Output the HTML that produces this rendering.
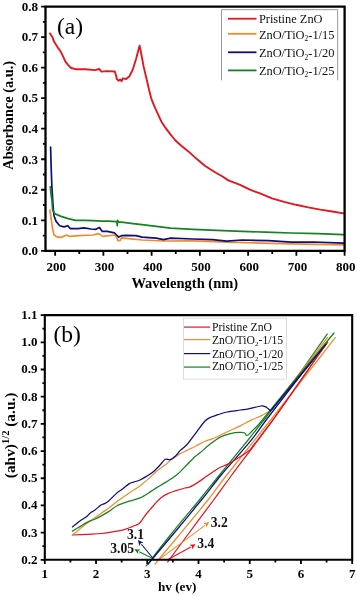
<!DOCTYPE html><html><head><meta charset="utf-8"><style>html,body{margin:0;padding:0;background:#fff;}svg{display:block;will-change:transform;}</style></head><body>
<svg width="357" height="596" viewBox="0 0 357 596">
<rect width="357" height="596" fill="#fff"/>
<path d="M55.15 250.80V255.70M103.39 250.80V255.70M151.63 250.80V255.70M199.87 250.80V255.70M248.12 250.80V255.70M296.36 250.80V255.70M344.60 250.80V255.70M79.27 250.80V253.90M127.51 250.80V253.90M175.75 250.80V253.90M224.00 250.80V253.90M272.24 250.80V253.90M320.48 250.80V253.90M45.50 250.80H41.10M45.50 220.28H41.10M45.50 189.75H41.10M45.50 159.23H41.10M45.50 128.70H41.10M45.50 98.18H41.10M45.50 67.65H41.10M45.50 37.13H41.10M45.50 6.60H41.10M45.50 235.54H42.90M45.50 205.01H42.90M45.50 174.49H42.90M45.50 143.96H42.90M45.50 113.44H42.90M45.50 82.91H42.90M45.50 52.39H42.90M45.50 21.86H42.90" stroke="#000" stroke-width="1.8" fill="none"/>
<g fill="none" stroke-linejoin="round" stroke-linecap="round">
<path d="M50.00 210.00L51.10 218.60L52.60 228.60L54.00 235.00L56.90 236.90L61.10 237.40L66.90 235.00L69.00 236.40L79.70 235.70L93.00 235.00L98.70 233.60L103.00 236.40L114.40 235.00L116.60 237.10L118.00 240.70L120.10 240.70L121.60 237.90L128.70 238.60L142.00 240.00L163.40 241.00L193.00 240.90L226.70 242.10L261.40 243.10L291.00 243.80L343.50 244.80" stroke="#f08c2c" stroke-width="1.7"/>
<path d="M50.60 147.20L51.20 168.60L51.90 187.10L52.70 200.00L53.30 208.60L54.00 215.70L56.10 221.40L59.70 225.70L64.00 226.90L67.60 225.70L70.40 228.60L78.30 228.60L84.00 227.90L91.10 229.00L95.90 229.30L99.40 227.40L102.30 231.40L107.30 231.40L114.40 232.90L116.60 235.00L118.70 237.10L121.60 235.70L125.90 235.40L135.90 235.70L142.00 237.10L156.30 238.10L163.40 239.60L170.60 238.10L193.00 239.00L212.40 239.70L226.70 241.10L242.00 240.00L268.60 240.70L291.00 242.10L313.00 242.00L343.50 243.20" stroke="#0e0e7c" stroke-width="1.7"/>
<path d="M50.30 186.80L51.00 194.00L51.90 200.00L52.60 210.00L54.70 213.60L61.10 216.40L68.30 218.60L75.40 220.30L84.00 220.30L93.00 220.70L101.60 221.10L108.70 221.10L115.90 221.70L116.90 221.30L117.30 225.70L117.70 220.30L118.30 221.90L121.60 222.10L133.00 223.60L142.00 224.70L156.30 226.40L170.60 228.10L193.00 229.30L216.70 230.30L242.00 231.40L265.70 232.10L291.00 233.00L317.80 233.60L343.50 234.70" stroke="#178222" stroke-width="1.7"/>
<path d="M50.00 33.40L52.60 37.60L54.00 41.60L58.40 48.40L61.10 52.30L63.50 57.30L65.40 61.60L68.00 64.80L71.10 68.00L75.40 69.20L85.30 69.20L95.20 70.10L99.10 69.00L101.50 71.60L106.80 71.10L114.80 71.50L116.00 75.30L116.80 79.00L118.50 80.70L120.20 79.50L121.60 81.20L122.70 78.40L126.10 79.00L129.50 76.20L132.80 69.50L136.20 58.50L138.40 50.10L139.60 45.60L141.20 53.50L143.70 66.90L147.10 81.20L149.10 90.00L151.30 98.60L154.10 105.70L157.70 113.60L161.30 121.40L165.60 127.90L169.90 133.60L174.90 140.00L181.30 145.70L188.40 151.40L196.30 158.60L204.80 165.70L214.60 172.00L222.50 176.50L228.30 180.40L240.10 184.90L249.90 189.60L260.00 193.40L272.00 198.30L284.10 201.90L296.10 204.80L308.20 207.40L320.20 209.60L332.30 211.50L343.50 213.40" stroke="#e3171f" stroke-width="1.9"/>
</g>
<g fill="none" stroke-linejoin="round" stroke-linecap="round" stroke-width="1.25">
<path d="M146.20 565.90C150.23 560.75 161.55 545.98 170.40 535.00C179.25 524.02 191.12 510.00 199.30 500.00C207.48 490.00 211.37 485.00 219.50 475.00C227.63 465.00 240.70 449.17 248.10 440.00C255.50 430.83 256.13 430.00 263.90 420.00C271.67 410.00 286.60 390.83 294.70 380.00C302.80 369.17 307.08 362.65 312.50 355.00C317.92 347.35 324.75 337.58 327.20 334.10" stroke="#178222"/>
<path d="M148.20 564.20C149.17 563.00 149.95 561.87 154.00 557.00C158.05 552.13 164.60 544.50 172.50 535.00C180.40 525.50 193.28 510.00 201.40 500.00C209.52 490.00 213.10 484.72 221.20 475.00C229.30 465.28 242.50 450.87 250.00 441.70C257.50 432.53 258.37 430.28 266.20 420.00C274.03 409.72 287.10 392.57 297.00 380.00C306.90 367.43 320.83 350.50 325.60 344.60" stroke="#0e0e7c"/>
<path d="M155.20 564.20C156.12 563.00 156.70 561.87 160.70 557.00C164.70 552.13 171.33 544.50 179.20 535.00C187.07 525.50 199.97 510.00 207.90 500.00C215.83 490.00 216.35 488.33 226.80 475.00C237.25 461.67 254.77 440.00 270.60 420.00C286.43 400.00 311.03 368.73 321.80 355.00C332.57 341.27 332.97 340.50 335.20 337.60" stroke="#f08c2c"/>
<path d="M167.70 562.00C168.30 561.17 168.55 560.75 171.30 557.00C174.05 553.25 177.15 549.00 184.20 539.50C191.25 530.00 205.67 510.75 213.60 500.00C221.53 489.25 221.92 488.33 231.80 475.00C241.68 461.67 258.47 440.00 272.90 420.00C287.33 400.00 309.28 367.97 318.40 355.00C327.52 342.03 326.07 344.33 327.60 342.20" stroke="#e3171f"/>
<path d="M72.40 535.00C74.90 534.88 82.52 534.55 87.40 534.30C92.28 534.05 96.77 534.02 101.70 533.50C106.63 532.98 113.12 531.88 117.00 531.20C120.88 530.52 122.48 530.17 125.00 529.40C127.52 528.63 129.72 527.60 132.10 526.60C134.48 525.60 137.38 524.90 139.30 523.40C141.22 521.90 142.17 519.50 143.60 517.60C145.03 515.70 146.23 514.02 147.90 512.00C149.57 509.98 151.47 507.85 153.60 505.50C155.73 503.15 158.32 499.88 160.70 497.90C163.08 495.92 165.35 494.80 167.90 493.60C170.45 492.40 173.18 491.63 176.00 490.70C178.82 489.77 182.47 488.63 184.80 488.00C187.13 487.37 187.95 487.75 190.00 486.90C192.05 486.05 194.72 484.40 197.10 482.90C199.48 481.40 201.92 479.57 204.30 477.90C206.68 476.23 209.02 474.52 211.40 472.90C213.78 471.28 215.85 469.67 218.60 468.20C221.35 466.73 225.08 465.53 227.90 464.10C230.72 462.67 232.88 461.18 235.50 459.60C238.12 458.02 241.18 456.20 243.60 454.60C246.02 453.00 248.93 450.77 250.00 450.00L272.90 420.00L318.40 355.00L327.60 342.20" stroke="#e3171f"/>
<path d="M72.40 535.00C73.72 533.93 77.80 530.62 80.30 528.60C82.80 526.58 85.02 524.68 87.40 522.90C89.78 521.12 92.22 519.57 94.60 517.90C96.98 516.23 99.32 514.57 101.70 512.90C104.08 511.23 106.35 509.82 108.90 507.90C111.45 505.98 115.27 502.72 117.00 501.40C118.73 500.08 117.25 501.42 119.30 500.00C121.35 498.58 125.97 495.17 129.30 492.90C132.63 490.63 136.20 488.67 139.30 486.40C142.40 484.13 145.05 481.80 147.90 479.30C150.75 476.80 153.38 473.90 156.40 471.40C159.42 468.90 163.70 466.12 166.00 464.30C168.30 462.48 168.10 462.12 170.20 460.50C172.30 458.88 175.80 456.28 178.60 454.60C181.40 452.92 184.20 451.80 187.00 450.40C189.80 449.00 192.40 447.73 195.40 446.20C198.40 444.67 202.00 442.52 205.00 441.20C208.00 439.88 209.75 439.83 213.40 438.30C217.05 436.77 222.42 434.07 226.90 432.00C231.38 429.93 236.25 427.88 240.30 425.90C244.35 423.92 247.75 421.77 251.20 420.10C254.65 418.43 257.73 417.53 261.00 415.90C264.27 414.27 269.17 411.23 270.80 410.30L327.60 337.40" stroke="#f08c2c"/>
<path d="M72.40 531.10C73.72 530.32 77.80 527.90 80.30 526.40C82.80 524.90 85.02 523.28 87.40 522.10C89.78 520.92 92.50 520.22 94.60 519.30C96.70 518.38 97.67 517.88 100.00 516.60C102.33 515.32 105.75 513.42 108.60 511.60C111.45 509.78 113.77 507.40 117.10 505.70C120.43 504.00 124.78 502.70 128.60 501.40C132.42 500.10 136.27 499.57 140.00 497.90C143.73 496.23 148.27 493.07 151.00 491.40C153.73 489.73 153.90 489.45 156.40 487.90C158.90 486.35 162.58 484.28 166.00 482.10C169.42 479.92 173.40 477.70 176.90 474.80C180.40 471.90 183.92 467.78 187.00 464.70C190.08 461.62 193.23 458.28 195.40 456.30C197.57 454.32 197.73 454.68 200.00 452.80C202.27 450.92 205.63 447.62 209.00 445.00C212.37 442.38 216.47 439.05 220.20 437.10C223.93 435.15 228.05 434.10 231.40 433.30C234.75 432.50 238.17 432.40 240.30 432.30C242.43 432.20 243.08 432.17 244.20 432.70C245.32 433.23 245.80 435.65 247.00 435.50C248.20 435.35 249.45 433.63 251.40 431.80C253.35 429.97 257.48 425.72 258.70 424.50L295.00 380.00L334.00 333.00" stroke="#178222"/>
<path d="M72.40 526.90C73.72 525.87 78.03 522.33 80.30 520.70C82.57 519.07 84.33 518.40 86.00 517.10C87.67 515.80 88.87 514.03 90.30 512.90C91.73 511.77 92.82 511.62 94.60 510.30C96.38 508.98 99.33 506.12 101.00 505.00C102.67 503.88 103.28 504.32 104.60 503.60C105.92 502.88 106.83 502.48 108.90 500.70C110.97 498.92 114.80 494.80 117.00 492.90C119.20 491.00 120.05 490.85 122.10 489.30C124.15 487.75 127.38 484.80 129.30 483.60C131.22 482.40 131.82 482.70 133.60 482.10C135.38 481.50 137.87 480.95 140.00 480.00C142.13 479.05 144.13 477.83 146.40 476.40C148.67 474.97 151.22 473.42 153.60 471.40C155.98 469.38 158.77 466.32 160.70 464.30C162.63 462.28 163.62 460.07 165.20 459.30C166.78 458.53 168.52 460.20 170.20 459.70C171.88 459.20 173.62 457.85 175.30 456.30C176.98 454.75 178.35 452.37 180.30 450.40C182.25 448.43 184.48 447.30 187.00 444.50C189.52 441.70 192.40 437.52 195.40 433.60C198.40 429.68 202.37 423.77 205.00 421.00C207.63 418.23 209.05 418.05 211.20 417.00C213.35 415.95 215.28 415.53 217.90 414.70C220.52 413.87 223.17 412.78 226.90 412.00C230.63 411.22 236.72 410.53 240.30 410.00C243.88 409.47 244.95 409.47 248.40 408.80C251.85 408.13 258.20 406.37 261.00 406.00C263.80 405.63 264.03 406.17 265.20 406.60C266.37 407.03 267.12 407.87 268.00 408.60C268.88 409.33 270.08 410.60 270.50 411.00L325.60 344.60" stroke="#0e0e7c"/>
</g>
<path d="M152.40 557.50L141.41 544.24" stroke="#0e0e7c" stroke-width="1.1" fill="none"/>
<path d="M137.90 540.00L143.41 542.58L140.64 543.31L139.41 545.89Z" fill="#0e0e7c"/>
<path d="M151.80 558.00L139.22 551.75" stroke="#178222" stroke-width="1.1" fill="none"/>
<path d="M134.30 549.30L140.38 549.42L138.15 551.21L138.07 554.08Z" fill="#178222"/>
<path d="M159.00 559.60L204.89 525.39" stroke="#f08c2c" stroke-width="1.1" fill="none"/>
<path d="M209.30 522.10L206.44 527.47L205.85 524.67L203.34 523.30Z" fill="#f08c2c"/>
<path d="M168.00 559.60L190.89 546.96" stroke="#e3171f" stroke-width="1.1" fill="none"/>
<path d="M195.70 544.30L192.14 549.24L191.94 546.38L189.63 544.68Z" fill="#e3171f"/>
<g font-family="Liberation Serif, serif" font-weight="bold" font-size="13.6" fill="#111">
<text x="144" y="539" text-anchor="end">3.1</text>
<text x="134" y="553.4" text-anchor="end">3.05</text>
<text x="210.8" y="527.1">3.2</text>
<text x="197.3" y="547.5">3.4</text>
</g>
<path d="M45.50 250.80V6.60H344.60V250.80Z" stroke="#000" stroke-width="2.3" fill="none" stroke-linecap="square"/>
<g font-family="Liberation Serif, serif" font-weight="bold" font-size="13" fill="#000">
<text x="38" y="255.10" text-anchor="end">0.0</text>
<text x="38" y="224.58" text-anchor="end">0.1</text>
<text x="38" y="194.05" text-anchor="end">0.2</text>
<text x="38" y="163.53" text-anchor="end">0.3</text>
<text x="38" y="133.00" text-anchor="end">0.4</text>
<text x="38" y="102.48" text-anchor="end">0.5</text>
<text x="38" y="71.95" text-anchor="end">0.6</text>
<text x="38" y="41.43" text-anchor="end">0.7</text>
<text x="38" y="10.90" text-anchor="end">0.8</text>
<text x="56.35" y="270.6" text-anchor="middle">200</text>
<text x="104.59" y="270.6" text-anchor="middle">300</text>
<text x="152.83" y="270.6" text-anchor="middle">400</text>
<text x="201.07" y="270.6" text-anchor="middle">500</text>
<text x="249.32" y="270.6" text-anchor="middle">600</text>
<text x="297.56" y="270.6" text-anchor="middle">700</text>
<text x="345.80" y="270.6" text-anchor="middle">800</text>
</g>
<text x="184.8" y="287.6" text-anchor="middle" font-family="Liberation Serif, serif" font-weight="bold" font-size="14.5">Wavelength (nm)</text>
<text transform="translate(13.2 115.3) rotate(-90)" text-anchor="middle" font-family="Liberation Serif, serif" font-weight="bold" font-size="14.35">Absorbance (a.u.)</text>
<text x="57" y="33.6" font-family="Liberation Serif, serif" font-size="23.5">(a)</text>
<path d="M44.80 559.80V564.00M96.03 559.80V564.00M147.27 559.80V564.00M198.50 559.80V564.00M249.73 559.80V564.00M300.97 559.80V564.00M352.20 559.80V564.00M70.42 559.80V562.60M121.65 559.80V562.60M172.88 559.80V562.60M224.12 559.80V562.60M275.35 559.80V562.60M326.58 559.80V562.60M44.80 559.80H40.70M44.80 532.61H40.70M44.80 505.42H40.70M44.80 478.23H40.70M44.80 451.04H40.70M44.80 423.86H40.70M44.80 396.67H40.70M44.80 369.48H40.70M44.80 342.29H40.70M44.80 315.10H40.70M44.80 546.21H42.40M44.80 519.02H42.40M44.80 491.83H42.40M44.80 464.64H42.40M44.80 437.45H42.40M44.80 410.26H42.40M44.80 383.07H42.40M44.80 355.88H42.40M44.80 328.69H42.40" stroke="#000" stroke-width="1.8" fill="none"/>
<path d="M44.80 559.80V315.10H352.20V559.80Z" stroke="#000" stroke-width="2.1" fill="none" stroke-linecap="square"/>
<g font-family="Liberation Serif, serif" font-weight="bold" font-size="13" fill="#000">
<text x="37.6" y="563.80" text-anchor="end">0.2</text>
<text x="37.6" y="536.61" text-anchor="end">0.3</text>
<text x="37.6" y="509.42" text-anchor="end">0.4</text>
<text x="37.6" y="482.23" text-anchor="end">0.5</text>
<text x="37.6" y="455.04" text-anchor="end">0.6</text>
<text x="37.6" y="427.86" text-anchor="end">0.7</text>
<text x="37.6" y="400.67" text-anchor="end">0.8</text>
<text x="37.6" y="373.48" text-anchor="end">0.9</text>
<text x="37.6" y="346.29" text-anchor="end">1.0</text>
<text x="37.6" y="319.10" text-anchor="end">1.1</text>
<text x="44.80" y="577.7" text-anchor="middle">1</text>
<text x="96.03" y="577.7" text-anchor="middle">2</text>
<text x="147.27" y="577.7" text-anchor="middle">3</text>
<text x="198.50" y="577.7" text-anchor="middle">4</text>
<text x="249.73" y="577.7" text-anchor="middle">5</text>
<text x="300.97" y="577.7" text-anchor="middle">6</text>
<text x="352.20" y="577.7" text-anchor="middle">7</text>
</g>
<text x="177.2" y="591.2" text-anchor="middle" font-family="Liberation Serif, serif" font-weight="bold" font-size="13.2">hv (ev)</text>
<text transform="translate(14.8 435.4) rotate(-90)" text-anchor="middle" font-family="Liberation Serif, serif" font-weight="bold" font-size="15.4">(ahv)<tspan dy="-5.5" font-size="10.5">1/2</tspan><tspan dy="5.5"> (a.u.)</tspan></text>
<text x="53.5" y="342.1" font-family="Liberation Serif, serif" font-size="23.5">(b)</text>
<path d="M221.5 80.3V9.7H337.6V80.3" stroke="#8c8c8c" stroke-width="0.9" fill="#fff"/>
<path d="M228 18.7H256.5" stroke="#e3171f" stroke-width="1.8"/>
<text x="258.9" y="22.9" font-family="Liberation Serif, serif" font-size="12.4" fill="#111">Pristine ZnO</text>
<path d="M228 33.8H256.5" stroke="#f08c2c" stroke-width="1.8"/>
<text x="258.9" y="38.6" font-family="Liberation Serif, serif" font-size="12.4" fill="#111">ZnO/TiO<tspan dy="2.8" font-size="7.4">2</tspan><tspan dy="-2.8">-1/15</tspan></text>
<path d="M228 52.3H256.5" stroke="#0e0e7c" stroke-width="1.8"/>
<text x="258.9" y="57.1" font-family="Liberation Serif, serif" font-size="12.4" fill="#111">ZnO/TiO<tspan dy="2.8" font-size="7.4">2</tspan><tspan dy="-2.8">-1/20</tspan></text>
<path d="M228 70.4H256.5" stroke="#178222" stroke-width="1.8"/>
<text x="258.9" y="74.6" font-family="Liberation Serif, serif" font-size="12.4" fill="#111">ZnO/TiO<tspan dy="2.8" font-size="7.4">2</tspan><tspan dy="-2.8">-1/25</tspan></text>
<rect x="183.5" y="318.1" width="102.9" height="61" stroke="#d4d4d4" stroke-width="0.8" fill="#fff"/>
<path d="M184 327.1H210.2" stroke="#e3171f" stroke-width="1.2"/>
<text x="211.9" y="330.9" font-family="Liberation Serif, serif" font-size="11.7" fill="#111">Pristine ZnO</text>
<path d="M184 339.6H210.2" stroke="#f08c2c" stroke-width="1.2"/>
<text x="211.9" y="343.7" font-family="Liberation Serif, serif" font-size="11.7" fill="#111">ZnO/TiO<tspan dy="2.6" font-size="7">2</tspan><tspan dy="-2.6">-1/15</tspan></text>
<path d="M184 353.6H210.2" stroke="#0e0e7c" stroke-width="1.2"/>
<text x="211.9" y="358.0" font-family="Liberation Serif, serif" font-size="11.7" fill="#111">ZnO/TiO<tspan dy="2.6" font-size="7">2</tspan><tspan dy="-2.6">-1/20</tspan></text>
<path d="M184 367.1H210.2" stroke="#178222" stroke-width="1.2"/>
<text x="211.9" y="370.1" font-family="Liberation Serif, serif" font-size="11.7" fill="#111">ZnO/TiO<tspan dy="2.6" font-size="7">2</tspan><tspan dy="-2.6">-1/25</tspan></text>
</svg></body></html>
